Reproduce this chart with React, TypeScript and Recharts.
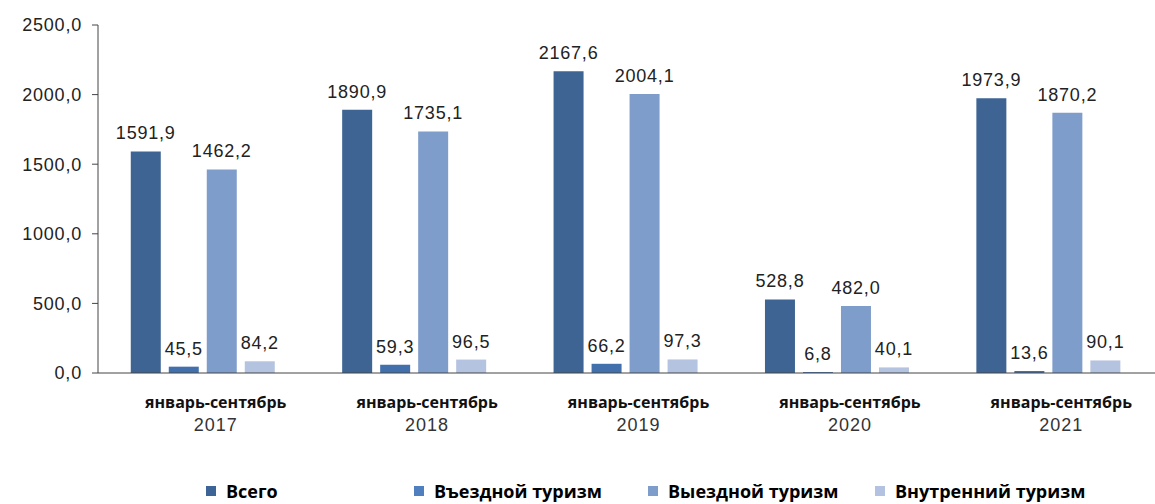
import React from "react";
import { BarChart, Bar, XAxis, YAxis, Legend, LabelList } from "recharts";

const periods = ["2017", "2018", "2019", "2020", "2021"];
const total = [1591.9, 1890.9, 2167.6, 528.8, 1973.9];
const inbound = [45.5, 59.3, 66.2, 6.8, 13.6];
const outbound = [1462.2, 1735.1, 2004.1, 482.0, 1870.2];
const domestic = [84.2, 96.5, 97.3, 40.1, 90.1];
const yTicks = [0, 500, 1000, 1500, 2000, 2500];

const series = [
  { key: "total", name: "Всего", fill: "#3D6493", legend: "#3C6496" },
  { key: "inbound", name: "Въездной туризм", fill: "#4270AC", legend: "#4F7FBF" },
  { key: "outbound", name: "Выездной туризм", fill: "#7F9DCA", legend: "#7F9DCB" },
  { key: "domestic", name: "Внутренний туризм", fill: "#B4C3DF", legend: "#B3C2E0" },
];

const data = periods.map((p, i) => ({
  period: p,
  total: total[i],
  inbound: inbound[i],
  outbound: outbound[i],
  domestic: domestic[i],
}));

const fmt = (v: number) => v.toFixed(1).replace(".", ",");

const numFont = "'Liberation Sans', Arial, sans-serif";
const boldFont = "'Open Sans', 'Noto Sans', sans-serif";

function PeriodTick({ x, y, payload }: any) {
  return (
    <g transform={`translate(${x + 12},${y})`}>
      <text y={27} textAnchor="middle" fontFamily={boldFont} fontWeight={700} fontSize={16} fill="#111">
        январь-сентябрь
      </text>
      <text y={50} textAnchor="middle" fontFamily={numFont} fontSize={18} letterSpacing={1} fill="#333">
        {payload.value}
      </text>
    </g>
  );
}

function LegendBox() {
  const widths = [208, 234, 227, 270];
  return (
    <div style={{ display: "flex", paddingLeft: 206, paddingTop: 10 }}>
      {series.map((s, i) => (
        <div key={s.key} style={{ width: widths[i], display: "flex", alignItems: "center" }}>
          <span style={{ width: 10, height: 10, background: s.legend, display: "inline-block", marginRight: 10 }} />
          <span style={{ fontFamily: boldFont, fontWeight: 700, fontSize: 18, color: "#000" }}>{s.name}</span>
        </div>
      ))}
    </div>
  );
}

export default function App() {
  return (
    <div style={{ position: "absolute", left: 0, top: 0, background: "#fff" }}>
      <BarChart
        width={1155}
        height={504}
        data={data}
        margin={{ top: 25, right: 0, left: 0, bottom: 0 }}
        barCategoryGap="15.5%"
        barGap={8}
      >
        <YAxis
          domain={[0, 2500]}
          ticks={yTicks}
          width={98}
          tickFormatter={fmt}
          axisLine={{ stroke: "#444" }}
          tickLine={{ stroke: "#444" }}
          tickSize={6}
          tickMargin={10}
          tick={{ fill: "#222", fontSize: 18, fontFamily: numFont, letterSpacing: 0.8 }}
          interval={0}
        />
        <XAxis
          dataKey="period"
          height={96}
          axisLine={{ stroke: "#444" }}
          tickLine={false}
          tick={<PeriodTick />}
          interval={0}
        />
        <Legend verticalAlign="bottom" height={35} content={<LegendBox />} />
        {series.map((s) => (
          <Bar key={s.key} dataKey={s.key} name={s.name} fill={s.fill} isAnimationActive={false}>
            <LabelList
              dataKey={s.key}
              position="top"
              offset={12}
              formatter={(v: any) => fmt(Number(v))}
              style={{ fill: "#222", fontSize: 18, fontFamily: numFont, letterSpacing: 0.8 }}
            />
          </Bar>
        ))}
      </BarChart>
    </div>
  );
}
